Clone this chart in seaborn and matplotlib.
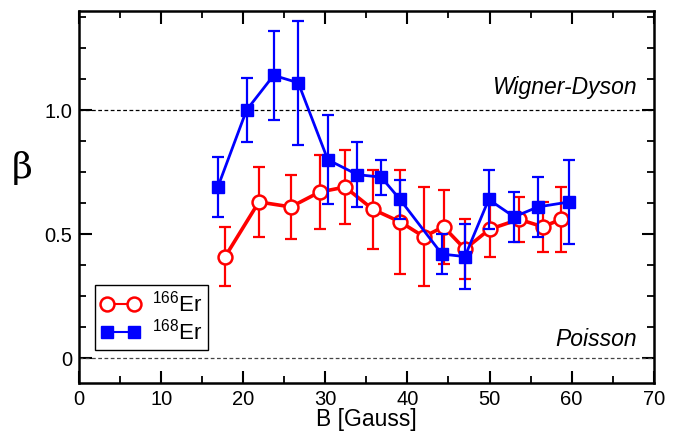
import matplotlib as mpl
import matplotlib.pyplot as plt
import numpy as np
import pandas as pd
import seaborn as sns
from matplotlib.ticker import MultipleLocator

# 166Er (red, open circles)
er166_b = [17.8, 21.9, 25.8, 29.3, 32.4, 35.8, 39.1, 42.0, 44.4, 47.0, 50.0, 53.6, 56.5, 58.7]
er166_beta = [0.41, 0.63, 0.61, 0.67, 0.69, 0.60, 0.55, 0.49, 0.53, 0.44, 0.52, 0.56, 0.53, 0.56]
er166_err = [0.12, 0.14, 0.13, 0.15, 0.15, 0.16, 0.21, 0.20, 0.15, 0.12, 0.11, 0.09, 0.10, 0.13]

# 168Er (blue, filled squares)
er168_b = [16.9, 20.4, 23.7, 26.7, 30.3, 33.9, 36.8, 39.1, 44.2, 47.0, 49.9, 53.0, 55.9, 59.7]
er168_beta = [0.69, 1.00, 1.14, 1.11, 0.80, 0.74, 0.73, 0.64, 0.42, 0.41, 0.64, 0.57, 0.61, 0.63]
er168_err = [0.12, 0.13, 0.18, 0.25, 0.18, 0.13, 0.07, 0.08, 0.08, 0.13, 0.12, 0.10, 0.12, 0.17]

RED = "#ff0000"
BLUE = "#0000ff"


def setup_style():
    sns.set_theme(style="ticks")
    mpl.rcParams.update({
        "font.family": ["Liberation Sans", "DejaVu Sans"],
        "mathtext.fontset": "custom",
        "mathtext.rm": "Liberation Sans",
        "mathtext.it": "Liberation Sans:italic",
        "text.color": "black",
        "axes.labelcolor": "black",
        "axes.edgecolor": "black",
        "axes.linewidth": 1.8,
        "xtick.direction": "in",
        "ytick.direction": "in",
        "xtick.color": "black",
        "ytick.color": "black",
        "xtick.labelcolor": "black",
        "ytick.labelcolor": "black",
    })


def main():
    setup_style()
    fig = plt.figure(figsize=(6.76, 4.32), dpi=100)
    ax = fig.add_axes([0.117, 0.113, 0.850, 0.862])

    ax.axhline(1.0, color="black", linestyle=(0, (3, 2)), linewidth=0.9, zorder=1)
    ax.axhline(0.0, color="#444444", linestyle=(0, (3, 2)), linewidth=0.9, zorder=1)

    df166 = pd.DataFrame({"B": er166_b, "beta": er166_beta, "err": er166_err})
    df168 = pd.DataFrame({"B": er168_b, "beta": er168_beta, "err": er168_err})

    ax.errorbar(df166["B"], df166["beta"], yerr=df166["err"], fmt="none",
                ecolor=RED, elinewidth=1.6, capsize=4, capthick=1.6, zorder=2)
    sns.lineplot(data=df166, x="B", y="beta", ax=ax, color=RED, linewidth=2.6,
                 marker="o", markersize=10, markerfacecolor="white",
                 markeredgecolor=RED, markeredgewidth=1.8, sort=False,
                 label=r"$^{166}$Er", zorder=3)

    ax.errorbar(df168["B"], df168["beta"], yerr=df168["err"], fmt="none",
                ecolor=BLUE, elinewidth=1.6, capsize=4, capthick=1.6, zorder=4)
    sns.lineplot(data=df168, x="B", y="beta", ax=ax, color=BLUE, linewidth=2.0,
                 marker="s", markersize=8, markerfacecolor=BLUE,
                 markeredgecolor=BLUE, markeredgewidth=1.0, sort=False,
                 label=r"$^{168}$Er", zorder=5)

    ax.set_xlim(0, 70)
    ax.set_ylim(-0.1, 1.4)
    ax.xaxis.set_major_locator(MultipleLocator(10))
    ax.xaxis.set_minor_locator(MultipleLocator(5))
    ax.set_yticks([0, 0.5, 1.0], labels=["0", "0.5", "1.0"])
    ax.yaxis.set_minor_locator(MultipleLocator(0.125))
    ax.tick_params(which="major", length=9, width=1.5, labelsize=14.5,
                   top=True, right=True, pad=5)
    ax.tick_params(which="minor", length=5, width=1.3, top=True, right=True)

    ax.set_xlabel("B [Gauss]", fontsize=16.5, labelpad=-1)
    ax.set_ylabel("")
    fig.text(0.033, 0.612, "β", fontsize=26, family="DejaVu Serif",
             ha="center", va="center")

    ax.text(67.9, 1.09, "Wigner-Dyson", fontsize=16.5, style="italic",
            ha="right", va="center")
    ax.text(67.9, 0.075, "Poisson", fontsize=16.5, style="italic",
            ha="right", va="center")

    leg = ax.legend(loc="lower left", bbox_to_anchor=(0.028, 0.089),
                    borderaxespad=0, fontsize=16, numpoints=2,
                    handlelength=1.8, handletextpad=0.5, labelspacing=0.1,
                    borderpad=0.25, fancybox=False, framealpha=1,
                    edgecolor="black")
    leg.get_frame().set_linewidth(1.0)
    for text in leg.get_texts():
        text.set_color("black")
    for line in leg.get_lines():
        line.set_linewidth(1.5)

    fig.savefig("out.png", dpi=100, facecolor="white")
    plt.close(fig)


if __name__ == "__main__":
    main()
